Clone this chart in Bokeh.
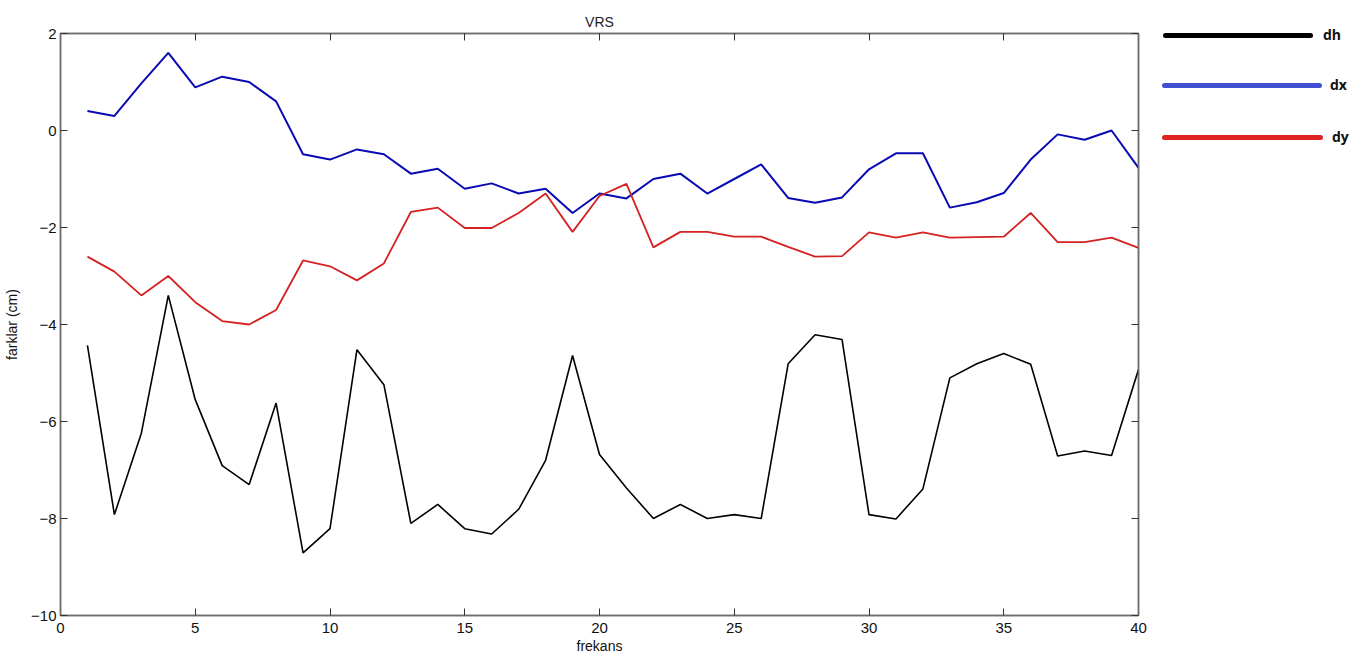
from bokeh.plotting import figure
from bokeh.models import ColumnDataSource, LinearAxis, FixedTicker, Range1d, Div
from bokeh.layouts import row
from bokeh.embed import file_html
from bokeh.resources import INLINE

frekans = list(range(1, 41))
dh = [-4.43, -7.92, -6.24, -3.40, -5.55, -6.91, -7.30, -5.62, -8.71, -8.21,
      -4.52, -5.24, -8.10, -7.71, -8.21, -8.32, -7.81, -6.80, -4.64, -6.68,
      -7.37, -8.00, -7.71, -8.00, -7.92, -8.00, -4.81, -4.21, -4.31, -7.92,
      -8.01, -7.39, -5.10, -4.81, -4.60, -4.82, -6.71, -6.61, -6.70, -4.93]
dx = [0.40, 0.30, 0.97, 1.60, 0.89, 1.11, 1.00, 0.60, -0.49, -0.60,
      -0.39, -0.49, -0.89, -0.79, -1.20, -1.09, -1.30, -1.20, -1.70, -1.30,
      -1.40, -1.00, -0.89, -1.30, -1.00, -0.70, -1.39, -1.49, -1.38, -0.80,
      -0.47, -0.47, -1.59, -1.48, -1.29, -0.60, -0.08, -0.19, 0.00, -0.77]
dy = [-2.60, -2.91, -3.40, -3.00, -3.54, -3.93, -4.00, -3.70, -2.68, -2.80,
      -3.09, -2.74, -1.68, -1.59, -2.01, -2.01, -1.70, -1.30, -2.09, -1.35,
      -1.10, -2.41, -2.09, -2.09, -2.19, -2.19, -2.40, -2.60, -2.59, -2.10,
      -2.21, -2.10, -2.21, -2.20, -2.19, -1.70, -2.30, -2.30, -2.21, -2.42]
x_ticks = [0, 5, 10, 15, 20, 25, 30, 35, 40]
y_ticks = [-10, -8, -6, -4, -2, 0, 2]
series_names = ["dh", "dx", "dy"]
legend_colors = ["#000000", "#4050d0", "#e02424"]

FONT = "Liberation Sans"
AX = "#6e6e6e"
H = 656
PW = 1148

p = figure(width=PW, height=H, output_backend="svg", toolbar_location=None,
           x_range=Range1d(0, 40), y_range=Range1d(-10, 2),
           min_border_left=60, min_border_top=33, min_border_bottom=41, min_border_right=10,
           title="VRS")
p.title.align = "center"
p.title.text_font = FONT
p.title.text_font_size = "14px"
p.title.text_font_style = "normal"
p.title.text_color = "#222222"
p.title.standoff = 8
p.grid.visible = False
p.outline_line_color = AX
p.outline_line_width = 1.5

src = ColumnDataSource(dict(x=frekans, dh=dh, dx=dx, dy=dy))
p.line("x", "dx", source=src, line_color="#0a0ab4", line_width=2)
p.line("x", "dy", source=src, line_color="#d42222", line_width=1.8)
p.line("x", "dh", source=src, line_color="#000000", line_width=1.6)

def style_axis(ax, labels=True, standoff=4):
    ax.axis_line_color = AX
    ax.axis_line_width = 1.5
    ax.major_tick_line_color = "#333333"
    ax.major_tick_in = 7
    ax.major_tick_out = 0
    ax.minor_tick_line_color = None
    ax.major_label_text_font = FONT
    ax.major_label_text_font_size = "15px"
    ax.major_label_text_color = "#111111"
    ax.major_label_standoff = standoff
    if not labels:
        ax.major_label_text_alpha = 0
        ax.major_label_text_font_size = "1px"
        ax.major_label_standoff = 0

p.xaxis.ticker = FixedTicker(ticks=x_ticks)
p.yaxis.ticker = FixedTicker(ticks=y_ticks)
style_axis(p.xaxis[0], standoff=7)
style_axis(p.yaxis[0], standoff=4)
p.xaxis.axis_label = "frekans"
p.yaxis.axis_label = "farklar (cm)"
for ax in (p.xaxis[0], p.yaxis[0]):
    ax.axis_label_text_font = FONT
    ax.axis_label_text_font_size = "14px"
    ax.axis_label_text_font_style = "normal"
    ax.axis_label_text_color = "#111111"
    ax.axis_label_standoff = 2
p.yaxis[0].axis_label_standoff = 8

top = LinearAxis(ticker=FixedTicker(ticks=x_ticks))
style_axis(top, labels=False)
p.add_layout(top, "above")
right = LinearAxis(ticker=FixedTicker(ticks=y_ticks))
style_axis(right, labels=False)
p.add_layout(right, "right")

# legend panel (HTML) to the right of the plot
rows_y = [35, 85, 137]
line_left = [15, 14, 14]
line_w = [150, 160, 161]
label_left = [175, 182, 184]
parts = []
for name, col, cy, lx, lw, tx in zip(series_names, legend_colors, rows_y, line_left, line_w, label_left):
    parts.append(
        f'<div style="position:absolute;left:{lx}px;top:{cy - 2.5}px;width:{lw}px;height:5px;'
        f'background:{col};border-radius:2.5px"></div>'
        f'<span style="position:absolute;left:{tx}px;top:{cy - 8}px;line-height:16px;'
        f'font-family:\'Open Sans\';font-weight:bold;font-size:14px;color:#111">{name}</span>'
    )
legend_div = Div(text=f'<div style="position:relative;width:198px;height:{H}px">' + "".join(parts) + "</div>",
                 width=1346 - PW, height=H, margin=0)

open("out.html", "w").write(file_html(row(p, legend_div), INLINE))
